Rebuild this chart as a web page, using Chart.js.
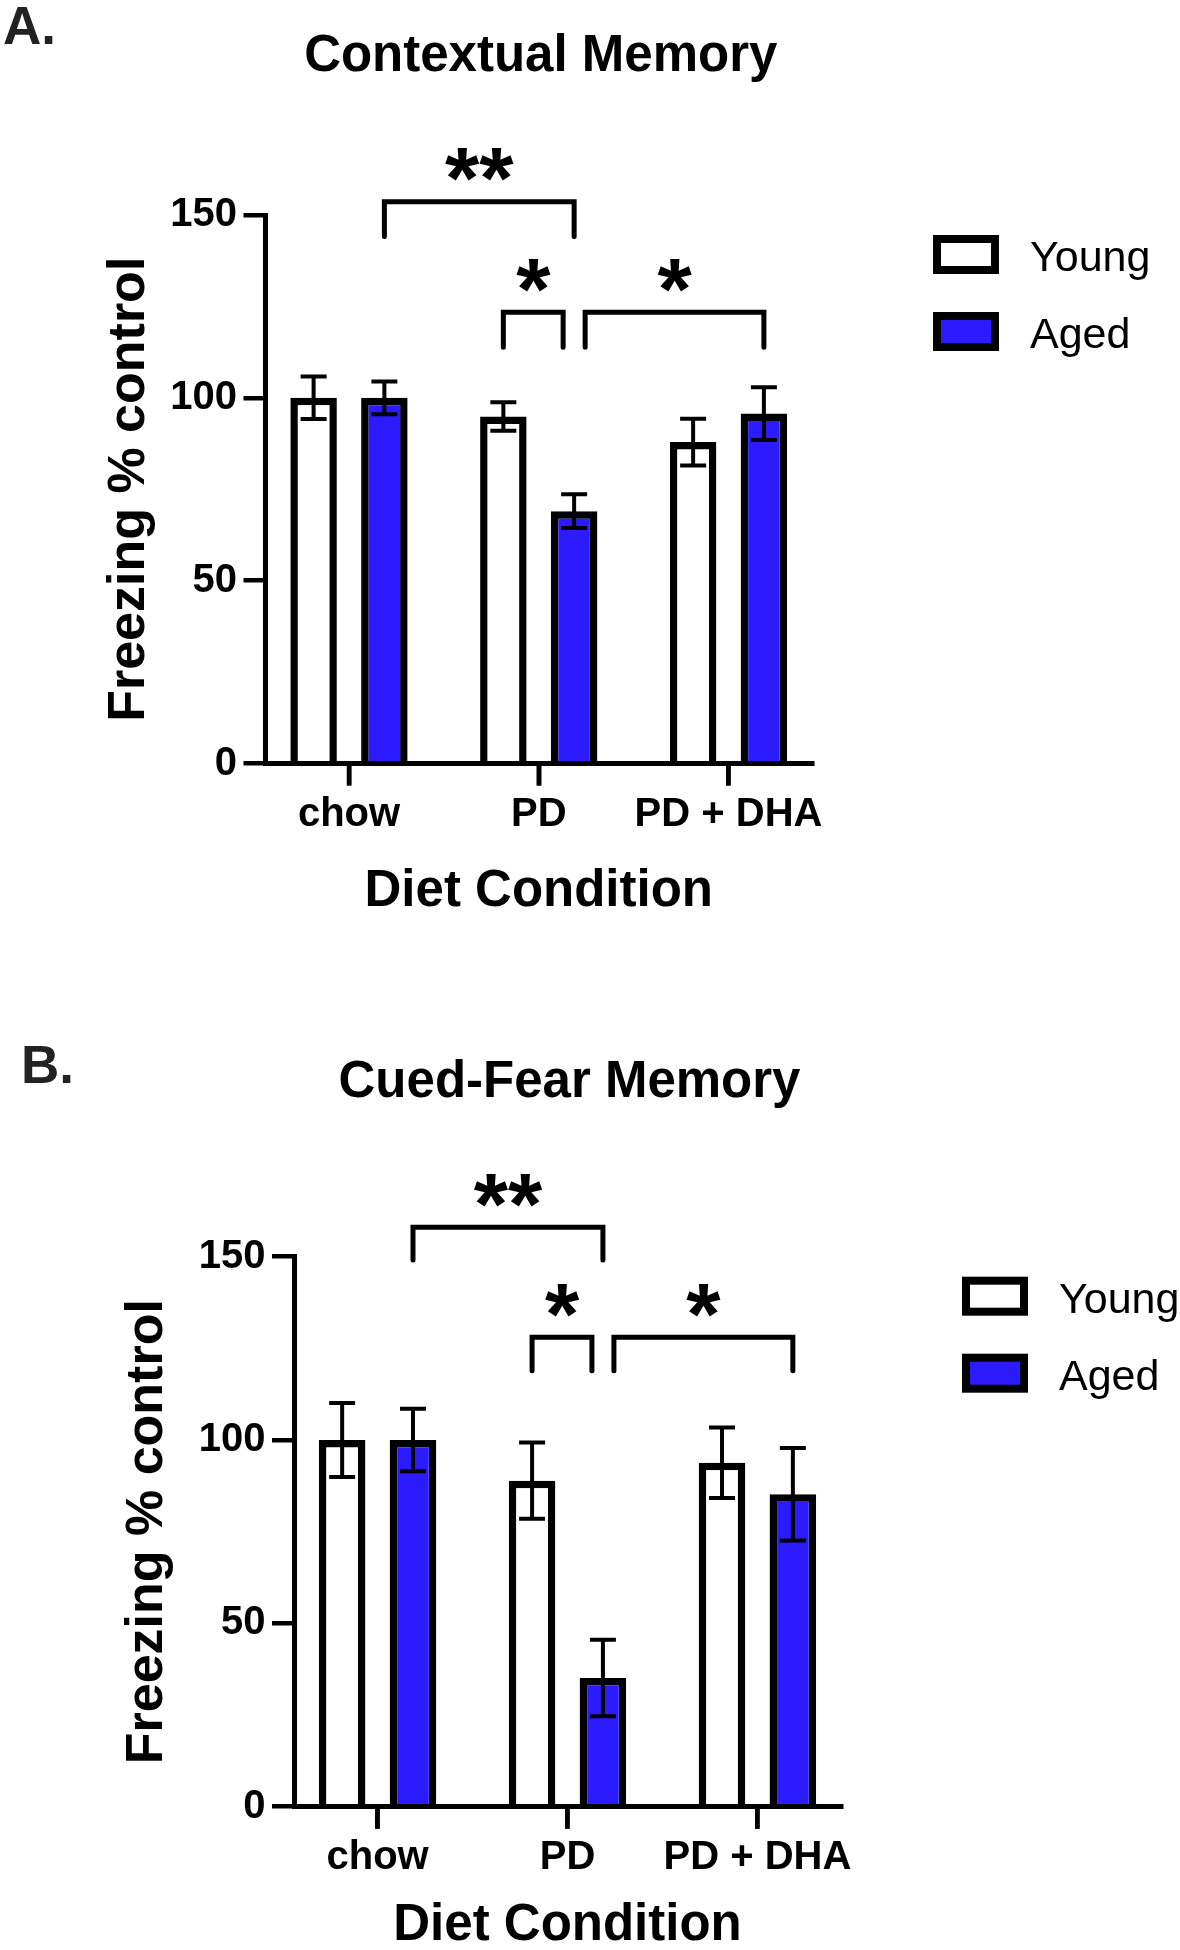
<!DOCTYPE html>
<html>
<head>
<meta charset="utf-8">
<script src="https://cdn.jsdelivr.net/npm/chart.js@4.4.1/dist/chart.umd.min.js"></script>
<style>
  html, body { margin: 0; padding: 0; background: #fff; width: 1180px; height: 1950px; overflow: hidden; }
  .panel { position: absolute; left: 0; width: 1180px; height: 1000px; }
  #panelA { top: 0; }
  #panelB { top: 1000px; }
</style>
</head>
<body>
<div class="panel" id="panelA"><canvas id="chartA" width="1180" height="1000"></canvas></div>
<div class="panel" id="panelB"><canvas id="chartB" width="1180" height="1000"></canvas></div>
<script>
// ---------------- data ----------------
const categories = ['chow', 'PD', 'PD + DHA'];
const seriesNames = ['Young', 'Aged'];
const yTickValues = [0, 50, 100, 150];
const xAxisTitle = 'Diet Condition';
const yAxisTitle = 'Freezing % control';

// A. Contextual Memory (mean and SEM, % of control)
const contextualTitle = 'Contextual Memory';
const contextualYoung = [100, 94.9, 87.9];
const contextualYoungSem = [5.8, 3.9, 6.4];
const contextualAged = [100, 69.0, 95.7];
const contextualAgedSem = [4.5, 4.6, 7.2];
// significance brackets: endpoints [category index, series index], bracket level, leg end level
const contextualBrackets = [
  { from: [0, 1], to: [1, 1], level: 153.6, legEnd: 144.1, label: '**' },
  { from: [1, 0], to: [1, 1], level: 123.4, legEnd: 113.8, label: '*' },
  { from: [1, 1], to: [2, 1], level: 123.4, legEnd: 113.8, label: '*' }
];

// B. Cued-Fear Memory
const cuedTitle = 'Cued-Fear Memory';
const cuedYoung = [100, 88.9, 93.8];
const cuedYoungSem = [10.1, 10.4, 9.6];
const cuedAged = [100, 35.1, 85.2];
const cuedAgedSem = [8.5, 10.4, 12.6];
const cuedBrackets = [
  { from: [0, 1], to: [1, 1], level: 158.0, legEnd: 149.1, label: '**' },
  { from: [1, 0], to: [1, 1], level: 128.0, legEnd: 118.9, label: '*' },
  { from: [1, 1], to: [2, 1], level: 128.0, legEnd: 118.9, label: '*' }
];

// ---------------- style ----------------
const FONT = '"Liberation Sans", Arial, Helvetica, sans-serif';
const BLUE = '#2c1bff';
const seriesFill = ['#ffffff', BLUE];

const layoutA = { canvasH: 1000, plotLeft: 265.5, plotRight: 812, plotTop: 215, plotBottom: 763.5,
  panel: 'A.', panelX: 3, panelBase: 44, titleBase: 71, yTitleX: 130, xTitleMid: 892 };
const layoutB = { canvasH: 1000, plotLeft: 294, plotRight: 841, plotTop: 256.7, plotBottom: 806.7,
  panel: 'B.', panelX: 21, panelBase: 83, titleBase: 97, yTitleX: 148, xTitleMid: 926 };

function makeChart(canvasId, L, title, young, youngSem, aged, agedSem, brackets) {
  const H = L.canvasH;
  const W = 1180;

  const errorBars = {
    id: 'errorBars',
    afterDatasetsDraw(chart) {
      const ctx = chart.ctx;
      const ys = chart.scales.y;
      const sems = [youngSem, agedSem];
      chart.data.datasets.forEach((ds, di) => {
        const meta = chart.getDatasetMeta(di);
        meta.data.forEach((bar, i) => {
          const m = ds.data[i].y, e = sems[di][i];
          const yt = ys.getPixelForValue(m + e), yb = ys.getPixelForValue(m - e);
          ctx.save();
          ctx.strokeStyle = '#000';
          ctx.lineWidth = 4;
          ctx.beginPath();
          ctx.moveTo(bar.x, yt); ctx.lineTo(bar.x, yb);
          ctx.moveTo(bar.x - 13, yt); ctx.lineTo(bar.x + 13, yt);
          ctx.moveTo(bar.x - 13, yb); ctx.lineTo(bar.x + 13, yb);
          ctx.stroke();
          ctx.restore();
        });
      });
    }
  };

  const sigBrackets = {
    id: 'sigBrackets',
    afterDraw(chart) {
      const ctx = chart.ctx;
      const ys = chart.scales.y;
      const barX = (p) => chart.getDatasetMeta(p[1]).data[p[0]].x;
      const same = (a, b) => a[0] === b[0] && a[1] === b[1];
      brackets.forEach((b, bi) => {
        let x1 = barX(b.from), x2 = barX(b.to);
        brackets.forEach((o, oi) => {
          if (oi === bi || o.level !== b.level) return;
          if (same(o.to, b.from) || same(o.from, b.from)) x1 += 11;
          if (same(o.from, b.to) || same(o.to, b.to)) x2 -= 11;
        });
        const yl = ys.getPixelForValue(b.level), yLeg = ys.getPixelForValue(b.legEnd);
        ctx.save();
        ctx.strokeStyle = '#000';
        ctx.lineWidth = 5;
        ctx.lineCap = 'round';
        ctx.lineJoin = 'miter';
        ctx.beginPath();
        ctx.moveTo(x1, yLeg); ctx.lineTo(x1, yl); ctx.lineTo(x2, yl); ctx.lineTo(x2, yLeg);
        ctx.stroke();
        ctx.font = 'bold 88px ' + FONT;
        ctx.fillStyle = '#000';
        ctx.textAlign = 'center';
        ctx.textBaseline = 'alphabetic';
        const mt = ctx.measureText(b.label);
        const cy = yl - 37;
        const base = cy + (mt.actualBoundingBoxAscent - mt.actualBoundingBoxDescent) / 2;
        ctx.fillText(b.label, (x1 + x2) / 2, base);
        ctx.restore();
      });
    }
  };

  const decor = {
    id: 'decor',
    afterDraw(chart) {
      const ctx = chart.ctx;
      const ca = chart.chartArea;
      const xs = chart.scales.x;
      ctx.save();
      // category tick marks below the x axis
      ctx.strokeStyle = '#000';
      ctx.lineWidth = 4.5;
      ctx.beginPath();
      xs.ticks.forEach((t) => {
        const px = xs.getPixelForValue(t.value);
        ctx.moveTo(px, ca.bottom);
        ctx.lineTo(px, ca.bottom + 22);
      });
      ctx.stroke();
      // panel letter
      ctx.font = 'bold 53px ' + FONT;
      ctx.fillStyle = '#222';
      ctx.textAlign = 'left';
      ctx.textBaseline = 'alphabetic';
      ctx.fillText(L.panel, L.panelX, L.panelBase);
      // title
      ctx.font = 'bold 51px ' + FONT;
      ctx.fillStyle = '#000';
      ctx.textAlign = 'center';
      ctx.fillText(title, (ca.left + ca.right) / 2 + 2, L.titleBase);
      // legend
      ctx.textAlign = 'left';
      ctx.font = '43px ' + FONT;
      chart.data.datasets.forEach((ds, i) => {
        const bx = ca.right + 121, by = ca.top + 20 + i * 77;
        ctx.fillStyle = '#000';
        ctx.fillRect(bx, by, 66, 39);
        ctx.fillStyle = ds.backgroundColor;
        ctx.fillRect(bx + 8, by + 8, 50, 23);
        ctx.fillStyle = '#000';
        ctx.fillText(ds.label, bx + 97, by + 36);
      });
      ctx.restore();
    }
  };

  const tickFont = { family: FONT, size: 40, weight: 'bold' };
  const titleFont = { family: FONT, size: 51, weight: 'bold' };
  const gridOpts = () => ({ drawOnChartArea: false, drawTicks: true, offset: false, tickLength: 22, tickWidth: 4.5,
    tickColor: '#000', lineWidth: 4.5, color: '#000', z: 1 });

  const mkDs = (name, vals, fill) => ({
    label: name,
    data: vals.map((v, i) => ({ x: i, y: v })),
    backgroundColor: fill,
    borderColor: '#000',
    borderWidth: 7.5,
    borderSkipped: 'start',
    inflateAmount: 0,
    categoryPercentage: 0.746,
    barPercentage: 0.657
  });

  return new Chart(document.getElementById(canvasId), {
    type: 'bar',
    data: {
      datasets: [mkDs(seriesNames[0], young, seriesFill[0]), mkDs(seriesNames[1], aged, seriesFill[1])]
    },
    options: {
      responsive: false,
      animation: false,
      devicePixelRatio: 1,
      layout: { padding: { left: 0, top: L.plotTop, right: W - L.plotRight, bottom: 0 } },
      plugins: { legend: { display: false }, title: { display: false }, tooltip: { enabled: false } },
      scales: {
        x: {
          type: 'linear',
          position: 'bottom',
          offset: false,
          bounds: 'data',
          min: -0.44,
          max: 2.44,
          afterDataLimits: (s) => { s.min = -0.44; s.max = 2.44; },
          afterBuildTicks: (s) => { s.ticks = categories.map((c, i) => ({ value: i })); },
          afterFit: (s) => { s.height = H - L.plotBottom; },
          ticks: { callback: (v) => categories[v], font: tickFont, color: '#000', padding: 5,
            maxRotation: 0, minRotation: 0, autoSkip: false },
          grid: gridOpts(),
          border: { display: true, color: '#000', width: 5, z: 1 },
          title: { display: true, text: xAxisTitle, font: titleFont, color: '#000',
            padding: { top: 0, bottom: H - L.xTitleMid - 30.6 } }
        },
        y: {
          type: 'linear',
          min: 0,
          max: 150,
          afterBuildTicks: (s) => { s.ticks = yTickValues.map((v) => ({ value: v })); },
          afterFit: (s) => { s.width = L.plotLeft; },
          ticks: { font: tickFont, color: '#000', padding: 6.5 },
          grid: gridOpts(),
          border: { display: true, color: '#000', width: 5, z: 1 },
          title: { display: true, text: yAxisTitle, font: { family: FONT, size: 52, weight: 'bold' }, color: '#000',
            padding: { top: L.yTitleX - 31.2, bottom: 0 } }
        }
      }
    },
    plugins: [errorBars, sigBrackets, decor]
  });
}

makeChart('chartA', layoutA, contextualTitle, contextualYoung, contextualYoungSem, contextualAged, contextualAgedSem, contextualBrackets);
makeChart('chartB', layoutB, cuedTitle, cuedYoung, cuedYoungSem, cuedAged, cuedAgedSem, cuedBrackets);
</script>
</body>
</html>
